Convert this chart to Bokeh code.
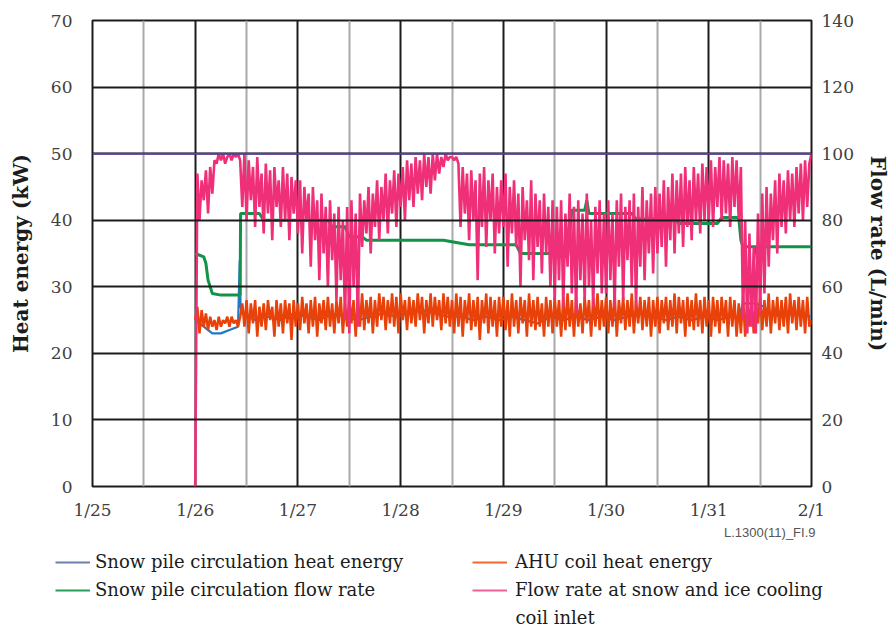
from bokeh.plotting import figure
from bokeh.layouts import column
from bokeh.models import (Range1d, LinearAxis, FixedTicker, Grid, Legend,
                          LegendItem, Label, Span)
from bokeh.embed import file_html
from bokeh.resources import INLINE

# ---------------- data ----------------
day_labels = ["1/25", "1/26", "1/27", "1/28", "1/29", "1/30", "1/31", "2/1"]
heat_ticks = [0, 10, 20, 30, 40, 50, 60, 70]
flow_ticks = [0, 20, 40, 60, 80, 100, 120, 140]
series_start = "1/26"          # all series start at 1/26 00:00
limit_flow = 100               # flat line at 100 L/min (= 50 kW on left scale)
samples_per_day = 48           # 30-minute samples for the two noisy series

# Flow rate at snow and ice cooling coil inlet (L/min), every 30 min from 1/26 00:00
coil_flow = [
    0, 94, 80, 92, 86, 95, 82, 96, 88, 98, 97, 100, 98, 100, 97, 99, 100, 98, 100, 99, 100, 98, 84, 100,
    80, 98, 86, 96, 78, 99, 84, 94, 76, 97, 82, 95, 74, 96, 84, 92, 78, 96, 80, 94, 74, 93, 82, 92,
    76, 92, 70, 90, 80, 88, 66, 90, 74, 86, 62, 88, 70, 84, 60, 86, 68, 82, 56, 84, 62, 80, 50, 84,
    46, 86, 60, 82, 48, 88, 72, 86, 76, 90, 70, 88, 78, 92, 74, 90, 80, 94, 76, 92, 82, 95, 78, 94,
    84, 96, 80, 98, 86, 97, 84, 99, 88, 98, 86, 100, 90, 99, 88, 100, 92, 100, 94, 99, 96, 100, 98, 99,
    99, 98, 99, 97, 78, 96, 82, 94, 74, 95, 80, 92, 62, 94, 78, 96, 72, 92, 80, 94, 70, 90, 76, 92,
    78, 94, 66, 90, 76, 92, 72, 88, 60, 90, 74, 86, 68, 92, 62, 88, 72, 86, 64, 88, 70, 84, 60, 86,
    56, 84, 62, 86, 54, 82, 66, 88, 58, 84, 52, 86, 62, 82, 56, 88, 60, 80, 54, 84, 64, 86, 58, 82,
    58, 86, 62, 82, 54, 86, 66, 88, 56, 84, 68, 86, 60, 88, 54, 84, 66, 90, 62, 86, 70, 88, 64, 90,
    70, 88, 72, 92, 66, 90, 74, 94, 70, 92, 76, 94, 72, 96, 78, 92, 74, 96, 80, 94, 76, 97, 80, 96,
    80, 98, 78, 96, 84, 99, 80, 98, 82, 97, 78, 99, 84, 98, 80, 96, 50, 80, 46, 76, 48, 72, 46, 82,
    52, 88, 58, 90, 66, 88, 74, 92, 70, 94, 78, 92, 76, 95, 80, 94, 78, 96, 82, 97, 80, 98, 84, 97,
    100,
]

# AHU coil heat energy (kW), every 30 min from 1/26 00:00
ahu_heat = [
    25, 27, 23, 26.5, 24, 26, 23.5, 25.5, 24, 25, 23.5, 25.5, 24, 25, 24.5, 25.5, 24, 25.5, 24.5, 25, 24, 25.5, 27.5, 24,
    28, 23, 27.5, 24.5, 28, 22.5, 27, 24, 27.5, 23.5, 28, 25, 27, 22.5, 28, 24, 27.5, 23, 28, 24.5, 27.5, 22, 28, 24,
    27.5, 23.5, 28.5, 24.5, 27.5, 23, 28, 24, 28.5, 22.5, 27.5, 24.5, 28, 23.5, 28.5, 24, 27.5, 23, 28, 24.5, 28.5, 23, 27.5, 24,
    28.5, 24.5, 28, 22.5, 28.5, 24, 29, 23.5, 28, 24.5, 28.5, 23, 28, 24, 29, 25, 28.5, 23.5, 28, 24.5, 29, 24, 28.5, 23,
    29, 25, 28, 23.5, 28.5, 24.5, 28, 24, 29, 25, 28.5, 23, 28, 24.5, 29, 24, 28.5, 25, 28, 23.5, 29, 24.5, 28.5, 24,
    28, 23, 29, 24, 28.5, 22.5, 28, 24.5, 29, 23.5, 28, 24, 28.5, 22, 28, 24.5, 29, 23, 28.5, 24, 28, 22.5, 28.5, 24,
    28.5, 23.5, 28, 22.5, 29, 24, 28, 23, 28.5, 24.5, 28, 22.5, 29, 24, 28, 23.5, 28.5, 24, 27.5, 22.5, 28.5, 24, 28, 23,
    28.5, 24, 28, 22.5, 28.5, 23.5, 29, 24, 28, 22.5, 28.5, 24, 27.5, 23, 28.5, 24.5, 28, 22.5, 28.5, 24, 29, 23.5, 28, 24,
    28.5, 23, 28, 24, 29, 22.5, 28, 24.5, 28.5, 23.5, 28, 24, 29, 23, 28, 24.5, 28.5, 23.5, 28, 24, 28.5, 22.5, 28, 24,
    28.5, 23, 28, 24.5, 28.5, 23.5, 28, 24, 29, 23, 28.5, 24.5, 28, 22.5, 28.5, 24, 28, 23.5, 29, 24, 28, 23, 28.5, 24,
    28, 22.5, 28.5, 24, 28, 23, 28.5, 24.5, 28, 22.5, 28.5, 24, 28, 22.5, 27.5, 23, 28.5, 22.5, 28, 24, 28.5, 23, 28, 24.5,
    28.5, 23.5, 28, 24, 29, 23, 28, 24.5, 28.5, 23.5, 28, 24, 28.5, 23, 29, 24.5, 28, 23.5, 28.5, 24, 28, 23, 28.5, 24,
    25,
]

# Snow pile circulation flow rate (L/min), hours after 1/26 00:00
pile_flow_h = [0, 2, 2.5, 3, 4, 6, 10.5, 10.6, 15, 16, 31, 32, 35, 36, 39, 40,
               58, 64, 75, 76, 83, 84, 87, 88, 91, 91.5, 92, 102, 103, 112, 113,
               122, 123, 127, 127.5, 128, 131, 131.5, 132, 144]
pile_flow = [70, 69, 67, 62, 58, 57.5, 57.5, 82, 82, 80, 80, 78, 78, 75, 75, 74,
             74, 72.6, 72.6, 70, 70, 69, 69, 83, 83, 86, 82, 82, 80.4, 80.4, 79,
             79, 80.8, 80.8, 74, 72, 72, 66, 72, 72]

# Snow pile circulation heat energy (kW), hours after 1/26 00:00
pile_heat_h = [0, 2, 4, 6, 8, 10, 10.4, 10.6, 11,
               14, 17, 20, 23, 26, 29, 32, 35, 38, 41, 44, 47, 50, 53, 56, 59, 62, 65,
               68, 71, 74, 77, 80, 83, 86, 89, 92, 95, 98, 101, 104, 107, 110, 113,
               116, 119, 122, 125,
               127, 128, 131, 133, 134, 137, 140, 144]
pile_heat = [25, 24, 23, 23, 23.5, 24, 34, 27, 26,
             25, 25.5, 25, 26, 25.5, 25, 26, 25.5, 25, 25.5, 26, 25.5, 26, 26.5, 26, 25.5,
             25.5, 25, 25.5, 25, 25.5, 25, 24.5, 25.5, 25, 25.5, 25, 25.5, 25, 25.5, 26,
             25.5, 25, 25.5, 25, 25.5, 25, 25.5,
             25.5, 27.5, 27.5, 27, 26, 25.5, 26, 25.5]

# ---------------- derived x positions (days after 1/25) ----------------
d0 = day_labels.index(series_start)
coil_x = [d0 + i / samples_per_day for i in range(len(coil_flow))]
ahu_x = [d0 + i / samples_per_day for i in range(len(ahu_heat))]
pile_flow_x = [d0 + h / 24 for h in pile_flow_h]
pile_heat_x = [d0 + h / 24 for h in pile_heat_h]

SERIF = "DejaVu Serif"
DARK = "#1c1c1c"
C_BLUE, C_ORANGE, C_GREEN, C_PINK = "#1f78c8", "#e8420a", "#119447", "#ef2f78"

W = 892
p = figure(width=W, height=522, output_backend="svg", toolbar_location=None,
           x_range=Range1d(0, len(day_labels) - 1),
           y_range=Range1d(heat_ticks[0], heat_ticks[-1]),
           min_border_left=92, min_border_right=76,
           min_border_top=20, min_border_bottom=36)
p.frame_align = False
p.extra_y_ranges = {"flow": Range1d(flow_ticks[0], flow_ticks[-1])}
p.background_fill_color = "white"
p.border_fill_color = "white"
p.outline_line_color = DARK
p.outline_line_width = 2

# grids: day lines under the data, noon and horizontal lines above it
p.xgrid.ticker = FixedTicker(ticks=list(range(len(day_labels))))
p.xgrid.grid_line_color = DARK
p.xgrid.grid_line_width = 2
p.ygrid.ticker = FixedTicker(ticks=heat_ticks)
p.ygrid.grid_line_color = DARK
p.ygrid.grid_line_width = 2
noon = Grid(dimension=0, ticker=FixedTicker(ticks=[i + 0.5 for i in range(len(day_labels) - 1)]),
            grid_line_color="#a9a9a9", grid_line_width=2)
p.add_layout(noon)
noon.level = "guide"
p.xgrid.level = "underlay"
p.ygrid.level = "guide"

# axes
p.xaxis.ticker = FixedTicker(ticks=list(range(len(day_labels))))
p.xaxis.major_label_overrides = {i: lab for i, lab in enumerate(day_labels)}
p.yaxis.ticker = FixedTicker(ticks=heat_ticks)
p.yaxis.axis_label = "Heat energy (kW)"
p.xaxis.major_label_standoff = 13
p.yaxis.major_label_standoff = 20
p.yaxis.axis_label_standoff = 15

right = LinearAxis(y_range_name="flow", ticker=FixedTicker(ticks=flow_ticks),
                   axis_label="Flow rate (L/min)")
right.major_label_standoff = 10
right.axis_label_standoff = 9
p.add_layout(right, "right")

for ax in [p.xaxis[0], p.yaxis[0], right]:
    ax.axis_line_color = None
    ax.major_tick_line_color = None
    ax.minor_tick_line_color = None
    ax.major_tick_out = 0
    ax.major_tick_in = 0
    ax.major_label_text_font = SERIF
    ax.major_label_text_font_size = "17px"
    ax.major_label_text_color = "#404040"
    ax.axis_label_text_font = SERIF
    ax.axis_label_text_font_size = "20px"
    ax.axis_label_text_font_style = "bold"
    ax.axis_label_text_color = DARK

# series
p.line(pile_heat_x, pile_heat, color=C_BLUE, line_width=2.2)
p.line(ahu_x, ahu_heat, color=C_ORANGE, line_width=2.5)
p.line(pile_flow_x, pile_flow, y_range_name="flow", color=C_GREEN, line_width=3)
p.line(coil_x, coil_flow, y_range_name="flow", color=C_PINK, line_width=2.6)

p.add_layout(Span(location=limit_flow, dimension="width", y_range_name="flow",
                  line_color="#5b3fa0", line_width=2))

# ---------------- legend strip below the chart ----------------
LH = 108
q = figure(width=W, height=LH, output_backend="svg", toolbar_location=None,
           x_range=Range1d(0, W), y_range=Range1d(0, LH),
           x_axis_type=None, y_axis_type=None,
           min_border_left=0, min_border_right=0, min_border_top=0, min_border_bottom=0)
q.frame_align = False
q.outline_line_color = None
q.grid.visible = False
q.background_fill_color = "white"
q.border_fill_color = "white"

nan = float("nan")
l_blue = q.line([nan], [nan], color="#6f7fae", line_width=2)
l_green = q.line([nan], [nan], color="#2a9d5c", line_width=2)
l_orange = q.line([nan], [nan], color="#f06a32", line_width=2)
l_pink = q.line([nan], [nan], color="#f0609a", line_width=2)


def make_legend(items, loc, standoff):
    lg = Legend(items=items, location=loc, orientation="vertical")
    lg.label_text_font = SERIF
    lg.label_text_font_size = "18px"
    lg.label_text_color = DARK
    lg.glyph_width = 35
    lg.glyph_height = 20
    lg.label_height = 20
    lg.label_standoff = standoff
    lg.spacing = 7
    lg.padding = 0
    lg.margin = 0
    lg.border_line_color = None
    lg.background_fill_alpha = 0
    return lg


q.add_layout(make_legend([LegendItem(label="Snow pile circulation heat energy", renderers=[l_blue]),
                          LegendItem(label="Snow pile circulation flow rate", renderers=[l_green])],
                         (55, 30), 5))
q.add_layout(make_legend([LegendItem(label="AHU coil heat energy", renderers=[l_orange]),
                          LegendItem(label="Flow rate at snow and ice cooling", renderers=[l_pink])],
                         (472, 30), 8))
q.add_layout(Label(x=515, y=13, text="coil inlet", text_font=SERIF,
                   text_font_size="18px", text_color=DARK, text_baseline="middle"))
q.add_layout(Label(x=815, y=98, text="L.1300(11)_FI.9", text_font="Liberation Sans",
                   text_font_size="13px", text_color="#555555", text_baseline="middle",
                   text_align="right"))

layout = column(p, q, spacing=0)
open("out.html", "w").write(file_html(layout, INLINE))
